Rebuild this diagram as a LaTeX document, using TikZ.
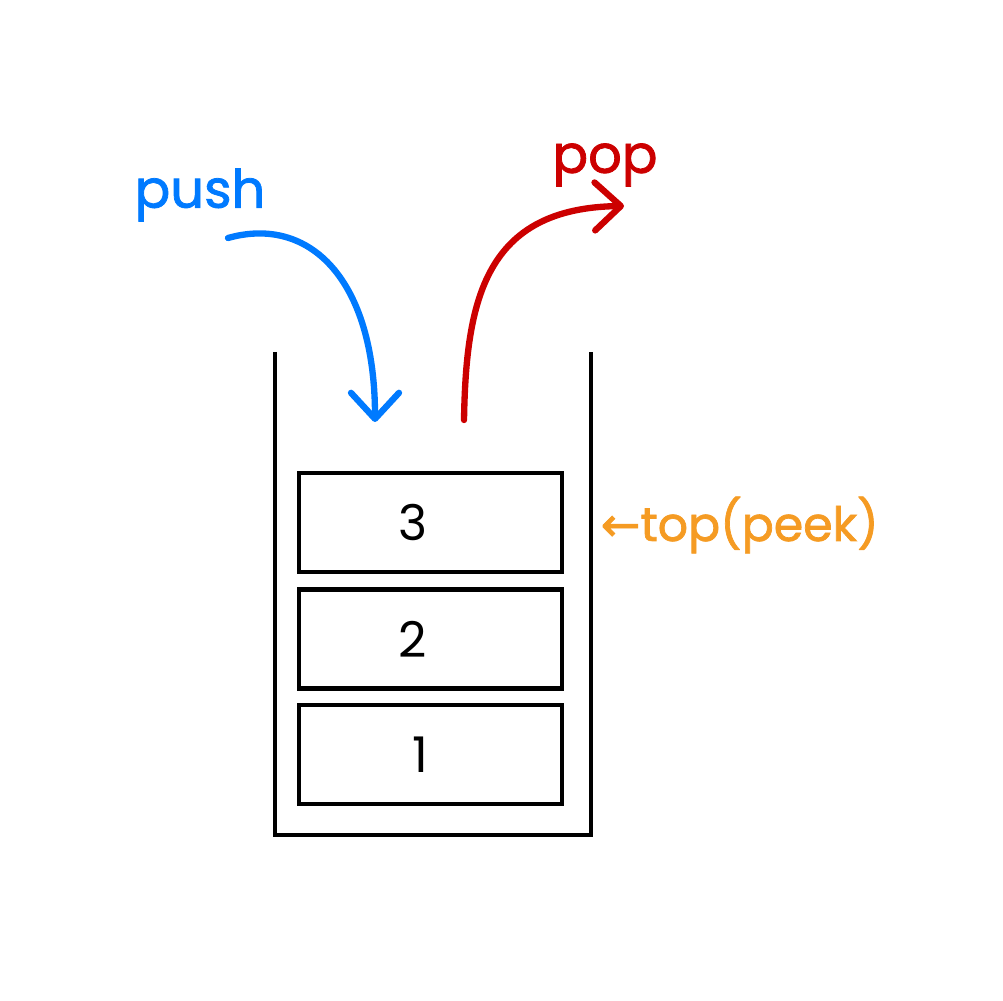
\documentclass[tikz,border=0pt]{standalone}
\usepackage{fontspec}
\setmainfont{Poppins}
\newfontfamily\handfont[FakeBold=1.5]{Poppins}
\newfontfamily\symfont[FakeBold=1.5]{DejaVu Sans}
\usepackage{xcolor}
\usepackage{tikz}
\usetikzlibrary{arrows.meta}

\definecolor{pushblue}{RGB}{0,122,255}
\definecolor{popred}{RGB}{204,0,0}
\definecolor{peekorange}{RGB}{245,155,35}

\begin{document}
\begin{tikzpicture}[
    cell/.style={draw, line width=1.2pt, minimum width=2.63cm, minimum height=0.99cm,
      inner sep=0pt, font=\fontsize{14}{14}\selectfont},
    hand/.style={line width=1.8pt, line cap=round,
      -{Straight Barb[length=2.6mm, width=4.8mm, line width=1.8pt, round]}}
  ]
  \useasboundingbox (0,0) rectangle (10.03,-10);
  % container
  \coordinate (tl) at (2.75,-3.52);
  \coordinate (tr) at (5.91,-3.52);
  \draw[line width=1.2pt] (tl) |- (5.91,-8.35) -- (tr);
  % stack cells
  \node[cell] (c3) at (4.305,-5.225) {\hspace*{-0.35cm}3};
  \node[cell] (c2) at (4.305,-6.39) {\hspace*{-0.35cm}2};
  \node[cell] (c1) at (4.305,-7.545) {\hspace*{-0.2cm}1};
  % push
  \node[text=pushblue, font=\handfont\fontsize{15}{15}\selectfont] (push) at (2.0,-1.95) {push};
  \coordinate (pushs) at (2.28,-2.38);
  \coordinate (pushe) at (3.75,-4.22);
  \draw[hand, pushblue] (pushs) .. controls (3.1,-2.15) and (3.75,-2.8) .. (pushe);
  % pop
  \node[text=popred, font=\handfont\fontsize{15}{15}\selectfont] (pop) at (6.05,-1.65) {pop};
  \coordinate (pops) at (4.64,-4.2);
  \coordinate (pope) at (6.24,-2.06);
  \draw[hand, popred] (pops) .. controls (4.66,-3.0) and (4.85,-2.08) .. (pope);
  % peek
  \node[text=peekorange, font=\handfont\fontsize{13.5}{13.5}\selectfont, anchor=west, inner sep=0pt]
    (peek) at (6.0,-5.25) {{\symfont ←}top(peek)};
\end{tikzpicture}
\end{document}
